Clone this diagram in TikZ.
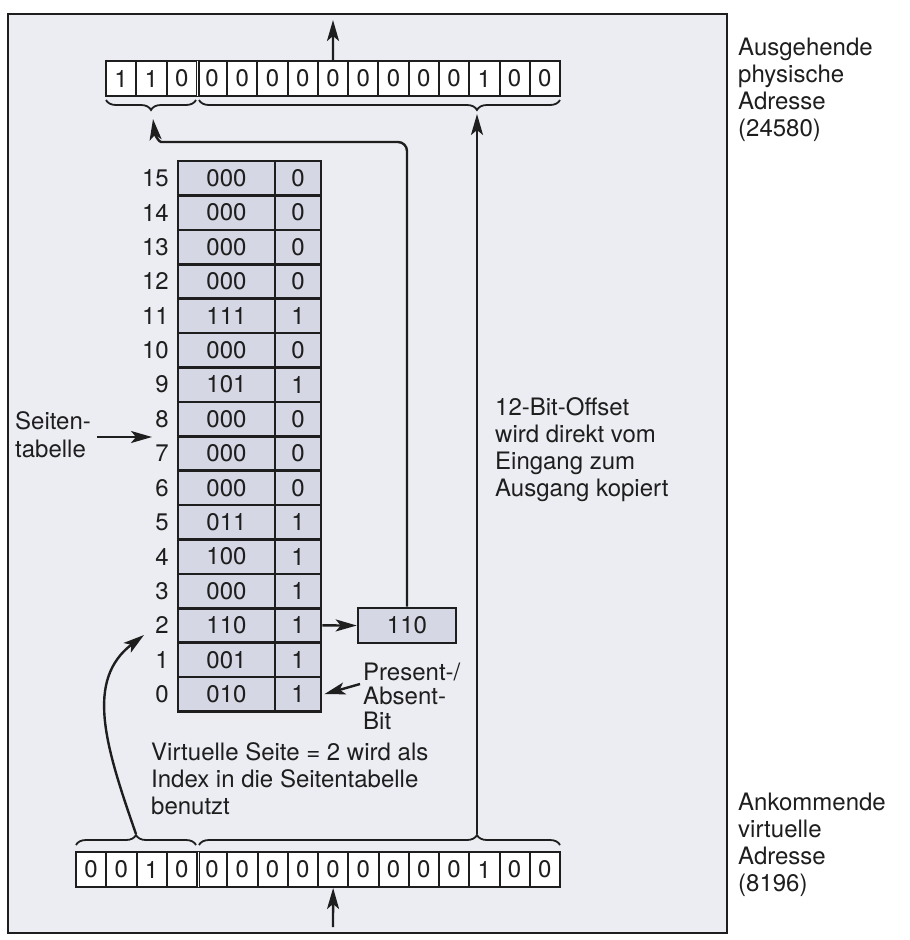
\documentclass[tikz,border=0pt]{standalone}
\usepackage{fontspec}
\setmainfont{TeX Gyre Heros}
\usetikzlibrary{arrows.meta,decorations.pathreplacing}
\definecolor{panel}{HTML}{ECEDF2}
\definecolor{cellfill}{HTML}{D5D8E4}
\definecolor{ink}{HTML}{1E1E1E}
\begin{document}
\begin{tikzpicture}[x=1pt,y=-1pt,
  font=\fontsize{24}{27}\selectfont,
  txt/.style={inner sep=0pt, align=left, anchor=north west, text=ink},
  arr/.style={draw=ink, line width=2.4pt, -{Stealth[length=21pt,width=12pt,inset=5pt]}},
  tcell/.style={draw=ink, line width=2.6pt, fill=cellfill, minimum height=34.4pt, inner sep=0pt, text=ink},
  rcell/.style={draw=ink, line width=2pt, fill=white, minimum width=30.25pt, minimum height=35pt, inner sep=0pt, text=ink},
  bracedn/.style={draw=ink, line width=1.8pt, decorate, decoration={brace, mirror, amplitude=10pt, aspect=#1}},
  braceup/.style={draw=ink, line width=1.8pt, decorate, decoration={brace, amplitude=10pt, aspect=#1}},
  dbl/.style={draw=ink, line width=3.4pt},
  gap/.style={draw=white, line width=1pt}
]
\useasboundingbox (0,0) rectangle (910,940);
\fill[white] (0,0) rectangle (910,940);
% panel
\draw[draw=ink, line width=2.4pt, fill=panel] (8,14) rectangle (727,933);

% page table
\foreach \i/\f/\b in {15/000/0,14/000/0,13/000/0,12/000/0,11/111/1,10/000/0,9/101/1,8/000/0,7/000/0,6/000/0,5/011/1,4/100/1,3/000/1,2/110/1,1/001/1,0/010/1} {
  \pgfmathsetmacro\yc{161+(15-\i+0.5)*34.4}
  \node[tcell, minimum width=97pt] (pf\i) at (226.5,\yc) {\f};
  \node[tcell, minimum width=46pt] (pb\i) at (298,\yc) {\b};
  \node[anchor=east, inner sep=0pt, text=ink] (pn\i) at (169,\yc) {\i};
}

% result frame box
\node[tcell, minimum width=98pt, minimum height=35pt] (fr) at (407,625.5) {110};

% top register (outgoing physical address)
\foreach \b [count=\k from 0] in {1,1,0,0,0,0,0,0,0,0,0,0,1,0,0}
  \node[rcell] (t\k) at ({106+(\k+0.5)*30.27},78.5) {\b};
\draw[dbl] (t2.north east) -- (t2.south east);
\draw[gap] ([yshift=-1pt]t2.north east) -- ([yshift=1pt]t2.south east);

% bottom register (incoming virtual address)
\foreach \b [count=\k from 0] in {0,0,1,0,0,0,0,0,0,0,0,0,0,1,0,0}
  \node[rcell] (v\k) at ({76+(\k+0.5)*30.25},869.5) {\b};
\draw[dbl] (v3.north east) -- (v3.south east);
\draw[gap] ([yshift=-1pt]v3.north east) -- ([yshift=1pt]v3.south east);

% braces
\draw[bracedn=0.5] (106,100) -- (196,100);
\draw[bracedn=0.77] (199,100) -- (560,100);
\draw[braceup=0.5] (76,845) -- (196,845);
\draw[braceup=0.77] (199,845) -- (560,845);

\coordinate (tA) at (153,119);
\coordinate (tB) at (477,114);
\coordinate (bA) at (136,834);
\coordinate (bB) at (477,834);
\coordinate (outT) at (333,20);
\coordinate (inB) at (333,927);
\coordinate (idx) at (144,635);
\coordinate (sa) at (97,437);
\coordinate (sb) at (152,437);
\coordinate (pa) at (360,684);

% connectors
\draw[arr] (t7.north) -- (outT);
\draw[arr] (inB) -- (v8.south);
\draw[arr] (bB) -- (tB);
\draw[arr] (bA) .. controls (105,745) and (85,680) .. (idx);
\draw[arr] (pb2.east) -- (fr.west);
\draw[arr, rounded corners=9pt] (fr.north) |- (170,142) .. controls (159,142) and (155,135) .. (tA);
\draw[arr] (sa) -- (sb);
\draw[arr] (pa) -- ([xshift=2pt]pb0.east);

% texts
\node[txt] (lout) at (738,37) {\rule{0pt}{18pt}Ausgehende\\physische\\Adresse\\(24580)};
\node[txt] (lin) at (738,792) {\rule{0pt}{18pt}Ankommende\\virtuelle\\Adresse\\(8196)};
\node[txt] (lvirt) at (151,742) {\rule{0pt}{18pt}Virtuelle Seite = 2 wird als\\Index in die Seitentabelle\\benutzt};
\node[txt] (loff) at (495,397) {\rule{0pt}{18pt}12-Bit-Offset\\wird direkt vom\\Eingang zum\\Ausgang kopiert};
\node[txt, font=\fontsize{24}{24.5}\selectfont] (lpa) at (363,662) {\rule{0pt}{18pt}Present-/\\Absent-\\Bit};
\node[txt, font=\fontsize{24}{28}\selectfont] (lst) at (15,411) {\rule{0pt}{18pt}Seiten-\\tabelle};
\end{tikzpicture}
\end{document}
